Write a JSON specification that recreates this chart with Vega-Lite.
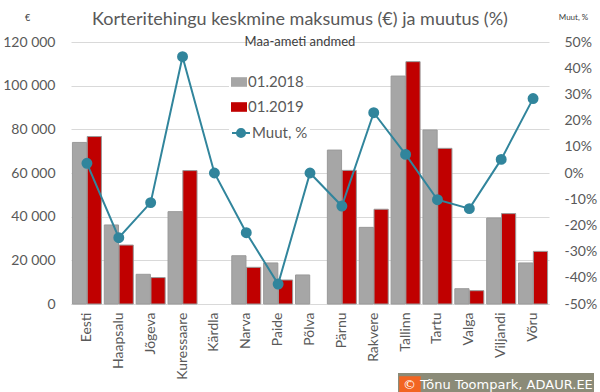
{
  "$schema": "https://vega.github.io/schema/vega-lite/v6.json",
  "autosize": "none",
  "width": 478,
  "height": 262,
  "padding": {"left": 71, "top": 42, "right": 51, "bottom": 88},
  "background": "white",
  "config": {
    "font": "Lato",
    "locale": {"number": {"decimal": ",", "thousands": " ", "grouping": [3], "currency": ["", " €"], "minus": "-"}},
    "view": {"stroke": null},
    "axis": {"labelFont": "Lato", "labelFontSize": 14, "labelColor": "#595959", "ticks": false, "domain": false, "gridColor": "#d9d9d9", "titleFont": "Lato", "titleColor": "#404040", "titleFontWeight": "normal"},
    "legend": {"labelFont": "Lato", "labelFontSize": 15, "labelColor": "#595959"}
  },
  "title": {
    "text": "Korteritehingu keskmine maksumus (€) ja muutus (%)",
    "subtitle": "Maa-ameti andmed",
    "anchor": "middle",
    "frame": "group",
    "dx": -10,
    "offset": -36,
    "font": "Lato",
    "fontSize": 18,
    "fontWeight": "normal",
    "color": "#595959",
    "subtitleFont": "Lato",
    "subtitleFontSize": 13,
    "subtitleColor": "#404040",
    "subtitlePadding": 7
  },
  "datasets": {
    "hinnad": [
      {"linn": "Eesti", "aasta": "01.2018", "hind": 74000},
      {"linn": "Eesti", "aasta": "01.2019", "hind": 76700},
      {"linn": "Haapsalu", "aasta": "01.2018", "hind": 36200},
      {"linn": "Haapsalu", "aasta": "01.2019", "hind": 27000},
      {"linn": "Jõgeva", "aasta": "01.2018", "hind": 13600},
      {"linn": "Jõgeva", "aasta": "01.2019", "hind": 12100},
      {"linn": "Kuressaare", "aasta": "01.2018", "hind": 42300},
      {"linn": "Kuressaare", "aasta": "01.2019", "hind": 61100},
      {"linn": "Narva", "aasta": "01.2018", "hind": 22100},
      {"linn": "Narva", "aasta": "01.2019", "hind": 16800},
      {"linn": "Paide", "aasta": "01.2018", "hind": 18800},
      {"linn": "Paide", "aasta": "01.2019", "hind": 11000},
      {"linn": "Põlva", "aasta": "01.2018", "hind": 13300},
      {"linn": "Pärnu", "aasta": "01.2018", "hind": 70500},
      {"linn": "Pärnu", "aasta": "01.2019", "hind": 61200},
      {"linn": "Rakvere", "aasta": "01.2018", "hind": 35100},
      {"linn": "Rakvere", "aasta": "01.2019", "hind": 43400},
      {"linn": "Tallinn", "aasta": "01.2018", "hind": 104400},
      {"linn": "Tallinn", "aasta": "01.2019", "hind": 111000},
      {"linn": "Tartu", "aasta": "01.2018", "hind": 79700},
      {"linn": "Tartu", "aasta": "01.2019", "hind": 71300},
      {"linn": "Valga", "aasta": "01.2018", "hind": 7000},
      {"linn": "Valga", "aasta": "01.2019", "hind": 6100},
      {"linn": "Viljandi", "aasta": "01.2018", "hind": 39400},
      {"linn": "Viljandi", "aasta": "01.2019", "hind": 41400},
      {"linn": "Võru", "aasta": "01.2018", "hind": 18800},
      {"linn": "Võru", "aasta": "01.2019", "hind": 24100}
    ],
    "muut": [
      {"linn": "Eesti", "muut": 3.7},
      {"linn": "Haapsalu", "muut": -24.7},
      {"linn": "Jõgeva", "muut": -11.3},
      {"linn": "Kuressaare", "muut": 44.4},
      {"linn": "Kärdla", "muut": 0},
      {"linn": "Narva", "muut": -22.8},
      {"linn": "Paide", "muut": -42.4},
      {"linn": "Põlva", "muut": 0},
      {"linn": "Pärnu", "muut": -12.6},
      {"linn": "Rakvere", "muut": 23},
      {"linn": "Tallinn", "muut": 7.1},
      {"linn": "Tartu", "muut": -10.2},
      {"linn": "Valga", "muut": -13.6},
      {"linn": "Viljandi", "muut": 5.2},
      {"linn": "Võru", "muut": 28.4}
    ]
  },
  "encoding": {
    "x": {
      "field": "linn",
      "type": "nominal",
      "sort": ["Eesti", "Haapsalu", "Jõgeva", "Kuressaare", "Kärdla", "Narva", "Paide", "Põlva", "Pärnu", "Rakvere", "Tallinn", "Tartu", "Valga", "Viljandi", "Võru"],
      "scale": {"paddingInner": 0.09, "paddingOuter": 0.045},
      "axis": {"title": null, "labelAngle": -90, "labelPadding": 8, "domain": true, "domainColor": "#d9d9d9", "grid": false}
    }
  },
  "layer": [
    {
      "data": {"name": "hinnad"},
      "mark": {"type": "bar", "stroke": "#9a9a9a", "strokeWidth": 1},
      "encoding": {
        "xOffset": {"field": "aasta", "type": "nominal", "scale": {"domain": ["01.2018", "01.2019"], "paddingInner": 0.04}},
        "y": {
          "field": "hind",
          "type": "quantitative",
          "scale": {"domain": [0, 120000], "nice": false},
          "axis": {"title": "€", "titleAngle": 0, "titleX": -44, "titleY": -25, "titleAlign": "center", "titleBaseline": "middle", "titleFontSize": 9, "values": [0, 20000, 40000, 60000, 80000, 100000, 120000], "format": ",d", "labelPadding": 16, "grid": true}
        },
        "fill": {
          "field": "aasta",
          "type": "nominal",
          "scale": {"domain": ["01.2018", "01.2019"], "range": ["#a6a6a6", "#c00000"]},
          "legend": {"title": null, "orient": "none", "legendX": 158, "legendY": 30, "padding": 2, "fillColor": "white", "symbolType": "M-1,-0.6H1V0.6H-1Z", "symbolSize": 256, "symbolStrokeWidth": 0, "labelOffset": 1, "rowPadding": 9}
        },
        "opacity": {
          "datum": "© Tõnu Toompark, ADAUR.EE",
          "scale": {"range": [1]},
          "legend": {"title": null, "orient": "none", "legendX": 327, "legendY": 331, "padding": 1, "fillColor": "#8b8b78", "labelColor": "white", "labelFont": "DejaVu Sans", "labelFontSize": 13, "labelLimit": 400, "symbolType": "M-1,-0.8H1V0.8H-1Z", "symbolSize": 400, "symbolFillColor": "#f26522", "symbolStrokeColor": "#f26522", "symbolOpacity": 1, "labelOffset": -18, "encode": {"symbols": {"update": {"fill": {"value": "#f26522"}, "stroke": {"value": "#f26522"}, "opacity": {"value": 1}, "fillOpacity": {"value": 1}}}}}
        }
      }
    },
    {
      "data": {"name": "muut"},
      "mark": {"type": "line", "strokeWidth": 2, "point": {"filled": true, "size": 80, "color": "#31859c"}},
      "encoding": {
        "y": {
          "field": "muut",
          "type": "quantitative",
          "scale": {"domain": [-50, 50], "nice": false},
          "axis": {"orient": "right", "title": "Muut, %", "titleAngle": 0, "titleX": 24, "titleY": -25, "titleAlign": "center", "titleBaseline": "middle", "titleFontSize": 8, "values": [-50, -40, -30, -20, -10, 0, 10, 20, 30, 40, 50], "labelExpr": "datum.value + '%'", "labelPadding": 15, "grid": false}
        },
        "stroke": {
          "datum": "Muut, %",
          "scale": {"range": ["#31859c"]},
          "legend": {"title": null, "orient": "none", "legendX": 158, "legendY": 79, "padding": 2, "fillColor": "white", "symbolType": "M-1,0H-0.45M0.45,0H1M-0.45,0A0.45,0.45 0 1,0 0.45,0A0.45,0.45 0 1,0 -0.45,0Z", "symbolSize": 324, "symbolStrokeWidth": 2, "labelOffset": 1, "encode": {"symbols": {"update": {"fill": {"value": "#31859c"}, "stroke": {"value": "#31859c"}}}}}
        }
      }
    }
  ],
  "resolve": {"scale": {"y": "independent"}, "axis": {"y": "independent"}}
}
